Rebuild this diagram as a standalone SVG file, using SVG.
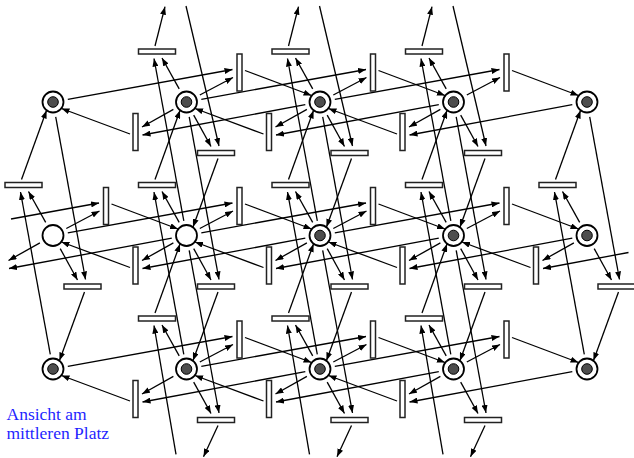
<svg xmlns="http://www.w3.org/2000/svg" width="634" height="458" viewBox="0 0 634 458">
<style>
.arc line{stroke:#000;stroke-width:1.3;fill:none;marker-end:url(#ah)}
.place .o{fill:#fff;stroke:#000;stroke-width:1.8}
.place .i{fill:#4d4d4d;stroke:#000;stroke-width:1}
.tr rect{fill:#fff;stroke:#222;stroke-width:1.5}
.lbl{font-family:"Liberation Serif","Times New Roman",serif;font-size:17.5px;fill:#1f1fff}
</style>
<defs>
<marker id="ah" markerUnits="userSpaceOnUse" markerWidth="8" markerHeight="6" refX="8" refY="3" orient="auto"><path d="M0,0 L8,3 L0,6 z" fill="#000"/></marker>
</defs>
<rect width="634" height="458" fill="#fff"/>
<g id="connectors" class="arc">
<line x1="67.8" y1="99.3" x2="232.5" y2="69.5"/>
<line x1="199.8" y1="95" x2="233" y2="77.5"/>
<line x1="245" y1="70.5" x2="311.5" y2="95.5"/>
<line x1="305.3" y1="104.7" x2="142.5" y2="135"/>
<line x1="173.4" y1="109.4" x2="142" y2="127"/>
<line x1="130" y1="134" x2="61.5" y2="108.5"/>
<line x1="183.8" y1="220.8" x2="154" y2="58.5"/>
<line x1="179.2" y1="88.9" x2="162" y2="58"/>
<line x1="155" y1="46" x2="165" y2="6.7"/>
<line x1="186" y1="6" x2="219" y2="146"/>
<line x1="193.7" y1="115.1" x2="211" y2="146.5"/>
<line x1="218" y1="158.5" x2="193" y2="227"/>
<line x1="201.3" y1="99.3" x2="366" y2="69.5"/>
<line x1="333.3" y1="95" x2="366.5" y2="77.5"/>
<line x1="378.5" y1="70.5" x2="445" y2="95.5"/>
<line x1="438.8" y1="104.7" x2="276" y2="135"/>
<line x1="306.9" y1="109.4" x2="275.5" y2="127"/>
<line x1="263.5" y1="134" x2="195" y2="108.5"/>
<line x1="317.3" y1="220.8" x2="287.5" y2="58.5"/>
<line x1="312.7" y1="88.9" x2="295.5" y2="58"/>
<line x1="288.5" y1="46" x2="298.5" y2="6.7"/>
<line x1="319.5" y1="6" x2="352.5" y2="146"/>
<line x1="327.2" y1="115.1" x2="344.5" y2="146.5"/>
<line x1="351.5" y1="158.5" x2="326.5" y2="227"/>
<line x1="334.8" y1="99.3" x2="499.5" y2="69.5"/>
<line x1="466.8" y1="95" x2="500" y2="77.5"/>
<line x1="512" y1="70.5" x2="578.5" y2="95.5"/>
<line x1="572.3" y1="104.7" x2="409.5" y2="135"/>
<line x1="440.4" y1="109.4" x2="409" y2="127"/>
<line x1="397" y1="134" x2="328.5" y2="108.5"/>
<line x1="450.8" y1="220.8" x2="421" y2="58.5"/>
<line x1="446.2" y1="88.9" x2="429" y2="58"/>
<line x1="422" y1="46" x2="432" y2="6.7"/>
<line x1="453" y1="6" x2="486" y2="146"/>
<line x1="460.7" y1="115.1" x2="478" y2="146.5"/>
<line x1="485" y1="158.5" x2="460" y2="227"/>
<line x1="11" y1="219" x2="99" y2="203"/>
<line x1="66.3" y1="228.5" x2="99.5" y2="211"/>
<line x1="111.5" y1="204" x2="178" y2="229"/>
<line x1="39.9" y1="242.9" x2="8.5" y2="260.5"/>
<line x1="171.8" y1="238.2" x2="9" y2="268.5"/>
<line x1="50.3" y1="354.3" x2="20.5" y2="192"/>
<line x1="45.7" y1="222.4" x2="28.5" y2="191.5"/>
<line x1="21.5" y1="179.5" x2="46.5" y2="110.5"/>
<line x1="55.7" y1="116.8" x2="85.5" y2="279.5"/>
<line x1="60.2" y1="248.6" x2="77.5" y2="280"/>
<line x1="84.5" y1="292" x2="59.5" y2="360.5"/>
<line x1="67.8" y1="232.8" x2="232.5" y2="203"/>
<line x1="199.8" y1="228.5" x2="233" y2="211"/>
<line x1="245" y1="204" x2="311.5" y2="229"/>
<line x1="305.3" y1="238.2" x2="142.5" y2="268.5"/>
<line x1="173.4" y1="242.9" x2="142" y2="260.5"/>
<line x1="130" y1="267.5" x2="61.5" y2="242"/>
<line x1="183.8" y1="354.3" x2="154" y2="192"/>
<line x1="179.2" y1="222.4" x2="162" y2="191.5"/>
<line x1="155" y1="179.5" x2="180" y2="110.5"/>
<line x1="189.2" y1="116.8" x2="219" y2="279.5"/>
<line x1="193.7" y1="248.6" x2="211" y2="280"/>
<line x1="218" y1="292" x2="193" y2="360.5"/>
<line x1="201.3" y1="232.8" x2="366" y2="203"/>
<line x1="333.3" y1="228.5" x2="366.5" y2="211"/>
<line x1="378.5" y1="204" x2="445" y2="229"/>
<line x1="438.8" y1="238.2" x2="276" y2="268.5"/>
<line x1="306.9" y1="242.9" x2="275.5" y2="260.5"/>
<line x1="263.5" y1="267.5" x2="195" y2="242"/>
<line x1="317.3" y1="354.3" x2="287.5" y2="192"/>
<line x1="312.7" y1="222.4" x2="295.5" y2="191.5"/>
<line x1="288.5" y1="179.5" x2="313.5" y2="110.5"/>
<line x1="322.7" y1="116.8" x2="352.5" y2="279.5"/>
<line x1="327.2" y1="248.6" x2="344.5" y2="280"/>
<line x1="351.5" y1="292" x2="326.5" y2="360.5"/>
<line x1="334.8" y1="232.8" x2="499.5" y2="203"/>
<line x1="466.8" y1="228.5" x2="500" y2="211"/>
<line x1="512" y1="204" x2="578.5" y2="229"/>
<line x1="572.3" y1="238.2" x2="409.5" y2="268.5"/>
<line x1="440.4" y1="242.9" x2="409" y2="260.5"/>
<line x1="397" y1="267.5" x2="328.5" y2="242"/>
<line x1="450.8" y1="354.3" x2="421" y2="192"/>
<line x1="446.2" y1="222.4" x2="429" y2="191.5"/>
<line x1="422" y1="179.5" x2="447" y2="110.5"/>
<line x1="456.2" y1="116.8" x2="486" y2="279.5"/>
<line x1="460.7" y1="248.6" x2="478" y2="280"/>
<line x1="485" y1="292" x2="460" y2="360.5"/>
<line x1="628.5" y1="252.5" x2="543" y2="268.5"/>
<line x1="573.9" y1="242.9" x2="542.5" y2="260.5"/>
<line x1="530.5" y1="267.5" x2="462" y2="242"/>
<line x1="584.3" y1="354.3" x2="554.5" y2="192"/>
<line x1="579.7" y1="222.4" x2="562.5" y2="191.5"/>
<line x1="555.5" y1="179.5" x2="580.5" y2="110.5"/>
<line x1="589.7" y1="116.8" x2="619.5" y2="279.5"/>
<line x1="594.2" y1="248.6" x2="611.5" y2="280"/>
<line x1="618.5" y1="292" x2="593.5" y2="360.5"/>
<line x1="67.8" y1="366.3" x2="232.5" y2="336.5"/>
<line x1="199.8" y1="362" x2="233" y2="344.5"/>
<line x1="245" y1="337.5" x2="311.5" y2="362.5"/>
<line x1="305.3" y1="371.7" x2="142.5" y2="402"/>
<line x1="173.4" y1="376.4" x2="142" y2="394"/>
<line x1="130" y1="401" x2="61.5" y2="375.5"/>
<line x1="176" y1="454.3" x2="154" y2="325.5"/>
<line x1="179.2" y1="355.9" x2="162" y2="325"/>
<line x1="155" y1="313" x2="180" y2="244"/>
<line x1="189.2" y1="250.3" x2="219" y2="413"/>
<line x1="193.7" y1="382.1" x2="211" y2="413.5"/>
<line x1="218" y1="425.5" x2="203.5" y2="456.7"/>
<line x1="201.3" y1="366.3" x2="366" y2="336.5"/>
<line x1="333.3" y1="362" x2="366.5" y2="344.5"/>
<line x1="378.5" y1="337.5" x2="445" y2="362.5"/>
<line x1="438.8" y1="371.7" x2="276" y2="402"/>
<line x1="306.9" y1="376.4" x2="275.5" y2="394"/>
<line x1="263.5" y1="401" x2="195" y2="375.5"/>
<line x1="309.5" y1="454.3" x2="287.5" y2="325.5"/>
<line x1="312.7" y1="355.9" x2="295.5" y2="325"/>
<line x1="288.5" y1="313" x2="313.5" y2="244"/>
<line x1="322.7" y1="250.3" x2="352.5" y2="413"/>
<line x1="327.2" y1="382.1" x2="344.5" y2="413.5"/>
<line x1="351.5" y1="425.5" x2="337" y2="456.7"/>
<line x1="334.8" y1="366.3" x2="499.5" y2="336.5"/>
<line x1="466.8" y1="362" x2="500" y2="344.5"/>
<line x1="512" y1="337.5" x2="578.5" y2="362.5"/>
<line x1="572.3" y1="371.7" x2="409.5" y2="402"/>
<line x1="440.4" y1="376.4" x2="409" y2="394"/>
<line x1="397" y1="401" x2="328.5" y2="375.5"/>
<line x1="443" y1="454.3" x2="421" y2="325.5"/>
<line x1="446.2" y1="355.9" x2="429" y2="325"/>
<line x1="422" y1="313" x2="447" y2="244"/>
<line x1="456.2" y1="250.3" x2="486" y2="413"/>
<line x1="460.7" y1="382.1" x2="478" y2="413.5"/>
<line x1="485" y1="425.5" x2="470.5" y2="456.7"/>
</g>
<g id="transitions" class="tr">
<g id="t-r1-186-right"><rect x="237" y="54" width="5" height="37"/></g>
<g id="t-r1-320-right"><rect x="370.5" y="54" width="5" height="37"/></g>
<g id="t-r1-453-right"><rect x="504" y="54" width="5" height="37"/></g>
<g id="t-r1-186-left"><rect x="133" y="113.5" width="5" height="37"/></g>
<g id="t-r1-320-left"><rect x="266.5" y="113.5" width="5" height="37"/></g>
<g id="t-r1-453-left"><rect x="400" y="113.5" width="5" height="37"/></g>
<g id="t-r1-186-up"><rect x="138.5" y="49" width="37" height="5"/></g>
<g id="t-r1-320-up"><rect x="272" y="49" width="37" height="5"/></g>
<g id="t-r1-453-up"><rect x="405.5" y="49" width="37" height="5"/></g>
<g id="t-r1-186-down"><rect x="197.5" y="150.5" width="37" height="5"/></g>
<g id="t-r1-320-down"><rect x="331" y="150.5" width="37" height="5"/></g>
<g id="t-r1-453-down"><rect x="464.5" y="150.5" width="37" height="5"/></g>
<g id="t-r2-53-right"><rect x="103.5" y="187.5" width="5" height="37"/></g>
<g id="t-r2-186-right"><rect x="237" y="187.5" width="5" height="37"/></g>
<g id="t-r2-320-right"><rect x="370.5" y="187.5" width="5" height="37"/></g>
<g id="t-r2-453-right"><rect x="504" y="187.5" width="5" height="37"/></g>
<g id="t-r2-186-left"><rect x="133" y="247" width="5" height="37"/></g>
<g id="t-r2-320-left"><rect x="266.5" y="247" width="5" height="37"/></g>
<g id="t-r2-453-left"><rect x="400" y="247" width="5" height="37"/></g>
<g id="t-r2-587-left"><rect x="533.5" y="247" width="5" height="37"/></g>
<g id="t-r2-53-up"><rect x="5" y="182.5" width="37" height="5"/></g>
<g id="t-r2-186-up"><rect x="138.5" y="182.5" width="37" height="5"/></g>
<g id="t-r2-320-up"><rect x="272" y="182.5" width="37" height="5"/></g>
<g id="t-r2-453-up"><rect x="405.5" y="182.5" width="37" height="5"/></g>
<g id="t-r2-587-up"><rect x="539" y="182.5" width="37" height="5"/></g>
<g id="t-r2-53-down"><rect x="64" y="284" width="37" height="5"/></g>
<g id="t-r2-186-down"><rect x="197.5" y="284" width="37" height="5"/></g>
<g id="t-r2-320-down"><rect x="331" y="284" width="37" height="5"/></g>
<g id="t-r2-453-down"><rect x="464.5" y="284" width="37" height="5"/></g>
<g id="t-r2-587-down"><rect x="598" y="284" width="37" height="5"/></g>
<g id="t-r3-186-right"><rect x="237" y="321" width="5" height="37"/></g>
<g id="t-r3-320-right"><rect x="370.5" y="321" width="5" height="37"/></g>
<g id="t-r3-453-right"><rect x="504" y="321" width="5" height="37"/></g>
<g id="t-r3-186-left"><rect x="133" y="380.5" width="5" height="37"/></g>
<g id="t-r3-320-left"><rect x="266.5" y="380.5" width="5" height="37"/></g>
<g id="t-r3-453-left"><rect x="400" y="380.5" width="5" height="37"/></g>
<g id="t-r3-186-up"><rect x="138.5" y="316" width="37" height="5"/></g>
<g id="t-r3-320-up"><rect x="272" y="316" width="37" height="5"/></g>
<g id="t-r3-453-up"><rect x="405.5" y="316" width="37" height="5"/></g>
<g id="t-r3-186-down"><rect x="197.5" y="417.5" width="37" height="5"/></g>
<g id="t-r3-320-down"><rect x="331" y="417.5" width="37" height="5"/></g>
<g id="t-r3-453-down"><rect x="464.5" y="417.5" width="37" height="5"/></g>
</g>
<g id="places" class="place">
<g id="p-r1c1"><circle class="o" cx="53" cy="102" r="10.5"/><circle class="i" cx="53" cy="102" r="5.3"/></g>
<g id="p-r1c2"><circle class="o" cx="186.5" cy="102" r="10.5"/><circle class="i" cx="186.5" cy="102" r="5.3"/></g>
<g id="p-r1c3"><circle class="o" cx="320" cy="102" r="10.5"/><circle class="i" cx="320" cy="102" r="5.3"/></g>
<g id="p-r1c4"><circle class="o" cx="453.5" cy="102" r="10.5"/><circle class="i" cx="453.5" cy="102" r="5.3"/></g>
<g id="p-r1c5"><circle class="o" cx="587" cy="102" r="10.5"/><circle class="i" cx="587" cy="102" r="5.3"/></g>
<g id="p-r2c1"><circle class="o" cx="53" cy="235.5" r="10.5"/></g>
<g id="p-r2c2"><circle class="o" cx="186.5" cy="235.5" r="10.5"/></g>
<g id="p-r2c3"><circle class="o" cx="320" cy="235.5" r="10.5"/><circle class="i" cx="320" cy="235.5" r="5.3"/></g>
<g id="p-r2c4"><circle class="o" cx="453.5" cy="235.5" r="10.5"/><circle class="i" cx="453.5" cy="235.5" r="5.3"/></g>
<g id="p-r2c5"><circle class="o" cx="587" cy="235.5" r="10.5"/><circle class="i" cx="587" cy="235.5" r="5.3"/></g>
<g id="p-r3c1"><circle class="o" cx="53" cy="369" r="10.5"/><circle class="i" cx="53" cy="369" r="5.3"/></g>
<g id="p-r3c2"><circle class="o" cx="186.5" cy="369" r="10.5"/><circle class="i" cx="186.5" cy="369" r="5.3"/></g>
<g id="p-r3c3"><circle class="o" cx="320" cy="369" r="10.5"/><circle class="i" cx="320" cy="369" r="5.3"/></g>
<g id="p-r3c4"><circle class="o" cx="453.5" cy="369" r="10.5"/><circle class="i" cx="453.5" cy="369" r="5.3"/></g>
<g id="p-r3c5"><circle class="o" cx="587" cy="369" r="10.5"/><circle class="i" cx="587" cy="369" r="5.3"/></g>
</g>
<g id="label">
<text class="lbl" x="6.5" y="420">Ansicht am</text>
<text class="lbl" x="6.5" y="438.5">mittleren Platz</text>
</g>
</svg>
